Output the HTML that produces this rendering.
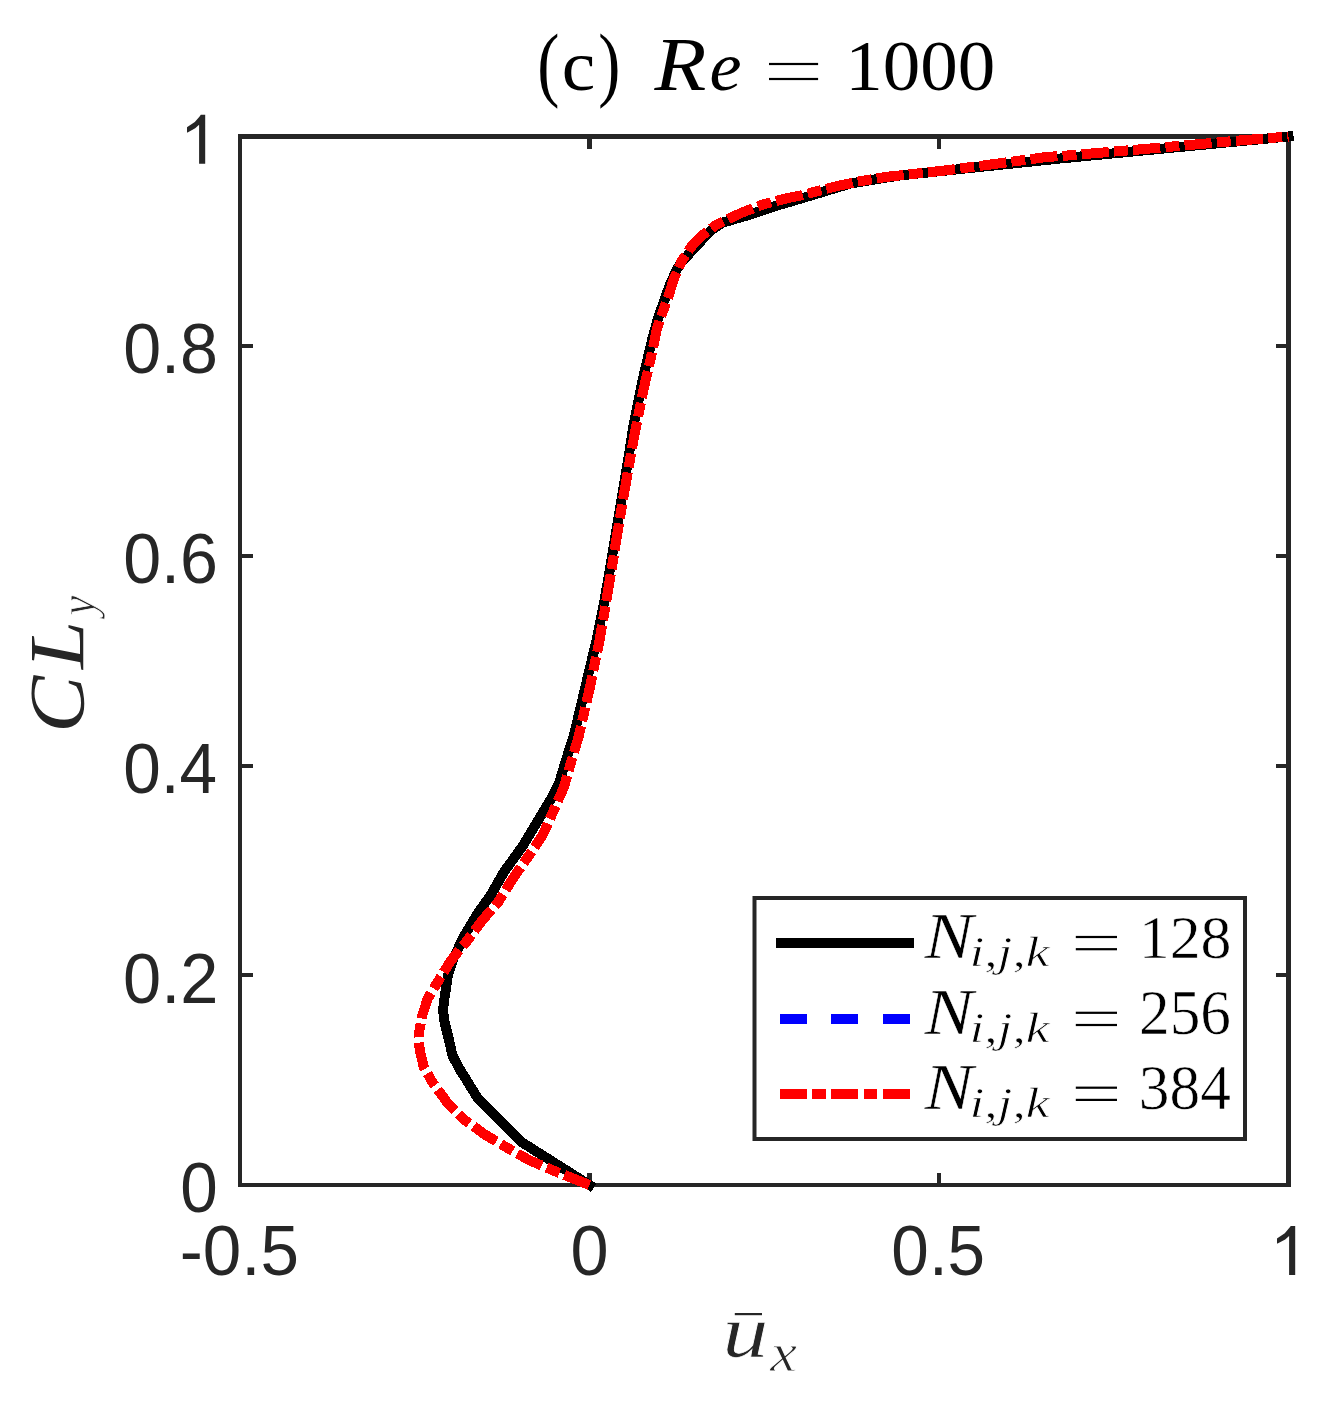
<!DOCTYPE html>
<html><head><meta charset="utf-8"><style>
html,body{margin:0;padding:0;background:#fff;}
svg{display:block;}
text{font-kerning:none;}
</style></head><body>
<svg width="1344" height="1405" viewBox="0 0 1344 1405">
<rect x="0" y="0" width="1344" height="1405" fill="#fff"/>
<g stroke="#262626" stroke-width="4.2" fill="none" shape-rendering="crispEdges">
<rect x="240" y="136.5" width="1048.5" height="1048.5"/>
<line x1="589.5" y1="1185" x2="589.5" y2="1172.5"/><line x1="589.5" y1="136.5" x2="589.5" y2="149.0"/><line x1="939" y1="1185" x2="939" y2="1172.5"/><line x1="939" y1="136.5" x2="939" y2="149.0"/><line x1="240" y1="975.3" x2="252.5" y2="975.3"/><line x1="1288.5" y1="975.3" x2="1276.0" y2="975.3"/><line x1="240" y1="765.6" x2="252.5" y2="765.6"/><line x1="1288.5" y1="765.6" x2="1276.0" y2="765.6"/><line x1="240" y1="555.9" x2="252.5" y2="555.9"/><line x1="1288.5" y1="555.9" x2="1276.0" y2="555.9"/><line x1="240" y1="346.2" x2="252.5" y2="346.2"/><line x1="1288.5" y1="346.2" x2="1276.0" y2="346.2"/>
</g>
<g fill="none" stroke-linejoin="round" stroke-width="10" shape-rendering="crispEdges">
<polyline points="589.5,1185.0 522.2,1142.5 478.2,1099.1 463.4,1075.0 460.9,1071.3 452.5,1055.7 449.0,1040.0 444.5,1022.0 443.0,1010.0 444.5,998.0 447.8,976.1 452.5,960.5 463.5,937.0 477.6,913.5 490.4,895.7 504.0,871.9 522.7,846.0 541.9,814.0 551.5,798.0 559.5,782.0 566.0,760.0 574.0,735.2 585.4,686.8 597.0,638.4 605.3,596.0 615.6,535.4 628.0,460.7 633.5,425.4 642.0,382.7 652.0,340.0 658.0,318.3 669.5,285.6 676.5,270.0 681.0,263.0 688.5,254.5 710.5,230.7 723.0,222.5 751.0,214.3 774.0,206.5 800.0,198.8 851.0,183.4 900.0,175.4 1060.0,158.5 1288.5,136.5" stroke="#000" stroke-linecap="square"/>
<polyline points="589.5,1185.0 576.9,1179.9 553.1,1170.4 529.3,1160.2 506.7,1147.5 485.0,1134.6 463.8,1119.3 447.0,1102.2 432.5,1082.5 423.7,1066.8 419.6,1049.8 419.0,1032.7 422.2,1015.6 427.7,998.5 436.4,984.0 450.9,960.5 467.0,940.9 481.5,921.3 498.4,901.7 513.2,878.0 528.0,856.8 542.5,835.4 552.1,814.0 563.8,787.4 571.5,760.7 579.0,735.2 590.0,686.8 599.9,638.4 607.1,596.0 611.9,567.5 617.0,535.4 624.2,492.7 629.8,460.7 634.6,434.0 639.7,408.3 645.0,382.7 650.1,361.3 654.6,340.0 657.0,328.3 663.2,310.5 668.1,297.4 673.6,279.5 681.4,261.7 691.2,246.8 702.8,234.9 716.2,224.8 740.2,213.3 764.2,204.0 788.9,197.8 800.0,195.6 838.0,185.9 857.7,181.7 887.0,176.8 948.2,170.1 997.3,163.6 1046.4,157.0 1069.0,155.4 1149.0,148.6 1238.6,140.6 1288.5,136.5" stroke="#f00" stroke-dasharray="27.2 5.2 14 5.2"/>
</g>
<g style="will-change:transform"><text transform="matrix(0.6822 0 0 0.7034 123.14 373.11)" font-family='"Liberation Sans",sans-serif' font-style="normal" font-size="100" fill="#262626">0.8</text><text transform="matrix(0.6824 0 0 0.7034 123.13 583.11)" font-family='"Liberation Sans",sans-serif' font-style="normal" font-size="100" fill="#262626">0.6</text><text transform="matrix(0.6748 0 0 0.7034 123.16 793.11)" font-family='"Liberation Sans",sans-serif' font-style="normal" font-size="100" fill="#262626">0.4</text><text transform="matrix(0.6857 0 0 0.7034 123.12 1002.61)" font-family='"Liberation Sans",sans-serif' font-style="normal" font-size="100" fill="#262626">0.2</text><text transform="matrix(0.6736 0 0 0.7062 180.27 1212.11)" font-family='"Liberation Sans",sans-serif' font-style="normal" font-size="100" fill="#262626">0</text><polygon fill="#262626" points="205.2,163.8 205.2,114.8 200.8,114.8 199.6,116.4 194.8,122.0 187.3,127.0 187.0,127.2 187.0,132.4 187.6,132.4 195.2,128.2 199.1,124.8 199.1,163.8"/><text transform="matrix(0.6922 0 0 0.6991 179.72 1274.92)" font-family='"Liberation Sans",sans-serif' font-style="normal" font-size="100" fill="#262626">-0.5</text><text transform="matrix(0.6841 0 0 0.7034 570.43 1275.11)" font-family='"Liberation Sans",sans-serif' font-style="normal" font-size="100" fill="#262626">0</text><text transform="matrix(0.6745 0 0 0.7034 891.37 1275.11)" font-family='"Liberation Sans",sans-serif' font-style="normal" font-size="100" fill="#262626">0.5</text><polygon fill="#262626" points="1295.2,1275.0 1295.2,1226.0 1290.8,1226.0 1289.6,1227.6 1284.8,1233.2 1277.3,1238.2 1277.0,1238.4 1277.0,1243.6 1277.6,1243.6 1285.2,1239.4 1289.1,1236.0 1289.1,1275.0"/><text transform="matrix(0.6658 0 0 0.8205 537.17 91.13)" font-family='"Liberation Serif",serif' font-style="normal" font-size="100" fill="#000">(</text><text transform="matrix(0.7547 0 0 0.7111 561.73 90.31)" font-family='"Liberation Serif",serif' font-style="normal" font-size="100" fill="#000">c</text><text transform="matrix(0.6658 0 0 0.8205 598.25 91.13)" font-family='"Liberation Serif",serif' font-style="normal" font-size="100" fill="#000">)</text><text transform="matrix(0.8489 0 0 0.7712 654.56 89.60)" font-family='"Liberation Serif",serif' font-style="italic" font-size="100" fill="#000">R</text><text transform="matrix(0.7219 0 0 0.7028 709.58 90.11)" font-family='"Liberation Serif",serif' font-style="italic" font-size="100" fill="#000">e</text><rect x="769" y="62.9" width="49.1" height="2.2" fill="#000"/><rect x="769" y="77.9" width="49.1" height="2.2" fill="#000"/><text transform="matrix(0.7503 0 0 0.7276 845.21 89.59)" font-family='"Liberation Serif",serif' font-style="normal" font-size="100" fill="#000">1000</text><text transform="matrix(0.9250 0 0 0.7393 722.19 1357.43)" font-family='"Liberation Serif",serif' font-style="italic" font-size="100" fill="#262626" stroke="#fff" stroke-width="0.96">u</text><rect x="734.8" y="1313" width="27.2" height="2.2" fill="#262626"/><text transform="matrix(0.6017 0 0 0.5447 770.23 1370.50)" font-family='"Liberation Serif",serif' font-style="italic" font-size="100" fill="#262626" stroke="#fff" stroke-width="1.74">x</text><g transform="rotate(-90)"><text transform="matrix(0.8540 0 0 0.7894 -732.85 83.07)" font-family='"Liberation Serif",serif' font-style="italic" font-size="100" fill="#262626">C</text><text transform="matrix(0.8645 0 0 0.7743 -668.99 82.70)" font-family='"Liberation Serif",serif' font-style="italic" font-size="100" fill="#262626">L</text><text transform="matrix(0.4452 0 0 0.5098 -615.38 94.30)" font-family='"Liberation Serif",serif' font-style="italic" font-size="100" fill="#262626" stroke="#fff" stroke-width="1.68">y</text></g></g>
<rect x="754.5" y="898" width="490.5" height="241" fill="#fff" stroke="#262626" stroke-width="4"/>
<g stroke-width="10" shape-rendering="crispEdges">
<line x1="775.6" y1="942.7" x2="914" y2="942.7" stroke="#000"/>
<line x1="779.8" y1="1018.5" x2="910.2" y2="1018.5" stroke="#00f" stroke-dasharray="27.1 24.3"/>
<line x1="779.8" y1="1093.9" x2="910.2" y2="1093.9" stroke="#f00" stroke-dasharray="27.1 5.2 13.9 5.2"/>
</g>
<g style="will-change:transform"><text transform="matrix(0.7312 0 0 0.6460 924.39 958.15)" font-family='"Liberation Serif",serif' font-style="italic" font-size="100" fill="#000" stroke="#fff" stroke-width="0.73">N</text><text transform="matrix(0.5334 0 0 0.4257 969.43 966.24)" font-family='"Liberation Serif",serif' font-style="italic" font-size="100" fill="#000" stroke="#fff" stroke-width="1.67">i,j,k</text><rect x="1075.8" y="935.9" width="41.2" height="2.2" fill="#000"/><rect x="1075.8" y="948.1" width="41.2" height="2.2" fill="#000"/><text transform="matrix(0.6186 0 0 0.6165 1138.76 957.70)" font-family='"Liberation Serif",serif' font-style="normal" font-size="100" fill="#000" stroke="#fff" stroke-width="0.97">128</text><text transform="matrix(0.7312 0 0 0.6460 924.39 1033.75)" font-family='"Liberation Serif",serif' font-style="italic" font-size="100" fill="#000" stroke="#fff" stroke-width="0.73">N</text><text transform="matrix(0.5334 0 0 0.4257 969.43 1041.84)" font-family='"Liberation Serif",serif' font-style="italic" font-size="100" fill="#000" stroke="#fff" stroke-width="1.67">i,j,k</text><rect x="1075.8" y="1011.7" width="41.2" height="2.2" fill="#000"/><rect x="1075.8" y="1023.9" width="41.2" height="2.2" fill="#000"/><text transform="matrix(0.6135 0 0 0.6251 1139.00 1034.09)" font-family='"Liberation Serif",serif' font-style="normal" font-size="100" fill="#000" stroke="#fff" stroke-width="0.97">256</text><text transform="matrix(0.7312 0 0 0.6460 924.39 1109.15)" font-family='"Liberation Serif",serif' font-style="italic" font-size="100" fill="#000" stroke="#fff" stroke-width="0.73">N</text><text transform="matrix(0.5334 0 0 0.4257 969.43 1117.24)" font-family='"Liberation Serif",serif' font-style="italic" font-size="100" fill="#000" stroke="#fff" stroke-width="1.67">i,j,k</text><rect x="1075.8" y="1086.6" width="41.2" height="2.2" fill="#000"/><rect x="1075.8" y="1098.8" width="41.2" height="2.2" fill="#000"/><text transform="matrix(0.6140 0 0 0.6268 1138.76 1108.99)" font-family='"Liberation Serif",serif' font-style="normal" font-size="100" fill="#000" stroke="#fff" stroke-width="0.97">384</text></g>
</svg>
</body></html>
